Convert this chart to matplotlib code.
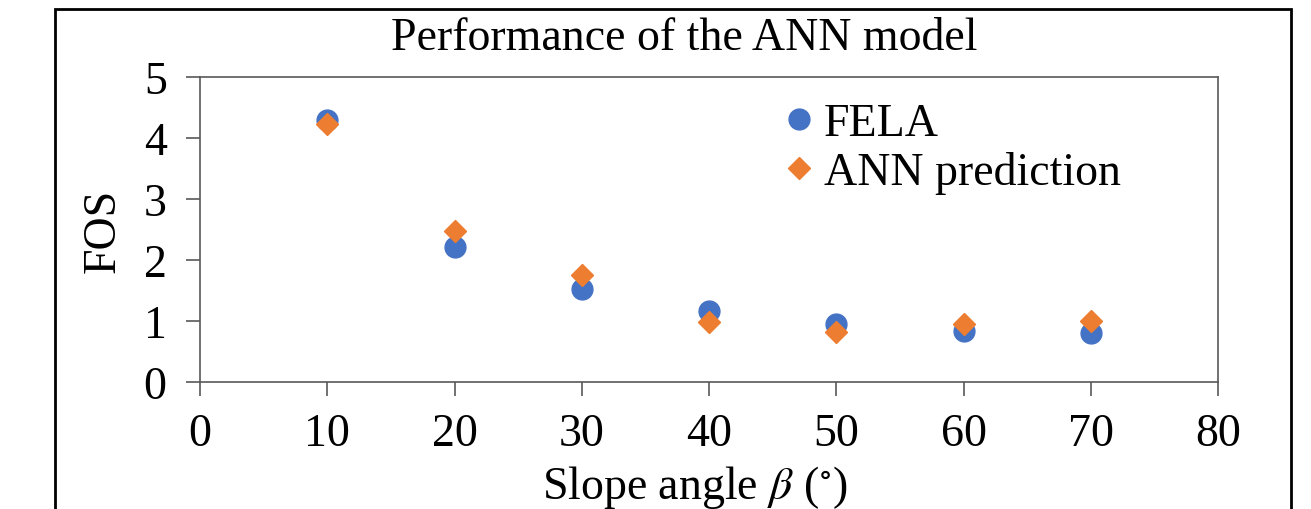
import matplotlib
matplotlib.use('Agg')
import matplotlib.pyplot as plt
from matplotlib.patches import Rectangle

plt.rcParams['font.family'] = ['Liberation Serif', 'DejaVu Serif']
plt.rcParams['mathtext.fontset'] = 'stix'

# slope angle (deg)
angles = [10, 20, 30, 40, 50, 60, 70]
# FOS from FELA and ANN
fos_fela = [4.29, 2.22, 1.53, 1.17, 0.95, 0.83, 0.80]
fos_ann = [4.23, 2.48, 1.76, 0.99, 0.82, 0.95, 1.00]
xticks = [0, 10, 20, 30, 40, 50, 60, 70, 80]
yticks = [0, 1, 2, 3, 4, 5]

fs = 33
fig = plt.figure(figsize=(13.11, 5.10), dpi=100)
ax = fig.add_axes([0.1526, 0.249, 0.7765, 0.598])

ax.plot(angles, fos_fela, 'o', color='#4472C4', markersize=15, label='FELA', zorder=3)
ax.plot(angles, fos_ann, 'D', color='#ED7D31', markersize=11, label='ANN prediction', zorder=4)

ax.set_xlim(0, 80)
ax.set_ylim(0, 5)
ax.set_xticks(xticks)
ax.set_yticks(yticks)
ax.tick_params(direction='out', length=10, width=1.2, color='#595959',
               labelsize=fs)
ax.tick_params(axis='x', pad=12)
ax.tick_params(axis='y', pad=14)
for s in ax.spines.values():
    s.set_color('#595959')
    s.set_linewidth(1.2)

ax.set_ylabel('FOS', fontsize=fs, labelpad=14)
fig.text(0.530, 0.045, r'Slope angle $\beta$ ($^{\circ}$)', fontsize=fs,
         ha='center', va='center')
fig.text(0.522, 0.925, 'Performance of the ANN model', fontsize=fs,
         ha='center', va='center')

leg = ax.legend(loc='upper left', bbox_to_anchor=(0.55, 0.975), frameon=False,
                fontsize=fs, handletextpad=0.1, labelspacing=0.12,
                handlelength=0.9, borderaxespad=0)

# outer frame
fig.patches.append(Rectangle((0.042, -0.05), 0.943, 1.03, transform=fig.transFigure,
                             fill=False, edgecolor='black', linewidth=2))

fig.savefig('out.png', dpi=100)
